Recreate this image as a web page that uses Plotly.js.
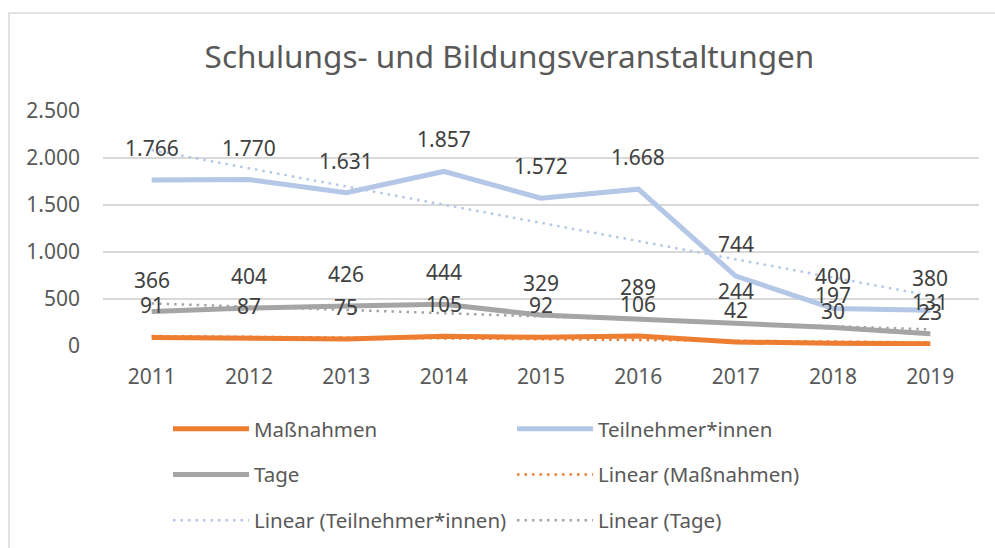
<!DOCTYPE html>
<html>
<head>
<meta charset="utf-8">
<script src="https://cdn.plot.ly/plotly-3.0.1.min.js"></script>
<style>html,body{margin:0;padding:0;background:#fff;}#chart{width:995px;height:548px;}</style>
</head>
<body>
<div id="chart"></div>
<script>
const years = ['2011','2012','2013','2014','2015','2016','2017','2018','2019'];
const massnahmen = [91, 87, 75, 105, 92, 106, 42, 30, 23];
const teilnehmer = [1766, 1770, 1631, 1857, 1572, 1668, 744, 400, 380];
const tage = [366, 404, 426, 444, 329, 289, 244, 197, 131];
const yTicks = [0, 500, 1000, 1500, 2000, 2500];

const cOrange = '#ED7D31', cBlue = '#B4C7E7', cGray = '#A5A5A5';
const FONT = 'Noto Sans, Open Sans, sans-serif';
const TXT = '#595959';
const DOTS = '2.5px,5px';

function linearTrend(vals){
  const n = vals.length;
  const xs = vals.map((v,i)=>i+1);
  const mx = xs.reduce((a,b)=>a+b,0)/n;
  const my = vals.reduce((a,b)=>a+b,0)/n;
  let sxy=0, sxx=0;
  for(let i=0;i<n;i++){ sxy += (xs[i]-mx)*(vals[i]-my); sxx += (xs[i]-mx)**2; }
  const b = sxy/sxx, a = my - b*mx;
  return xs.map(x=>a+b*x);
}
function fmt(v){ return String(v).replace(/\B(?=(\d{3})+(?!\d))/g,'.'); }

const traces = [
  {name:'Maßnahmen', x:years, y:massnahmen, mode:'lines', line:{color:cOrange,width:5}, legend:'legend', legendgroup:'a'},
  {name:'Teilnehmer*innen', x:years, y:teilnehmer, mode:'lines', line:{color:cBlue,width:5}, legend:'legend2', legendgroup:'b'},
  {name:'Tage', x:years, y:tage, mode:'lines', line:{color:cGray,width:5}, legend:'legend', legendgroup:'c'},
  {name:'Linear (Maßnahmen)', x:years, y:linearTrend(massnahmen), mode:'lines', line:{color:cOrange,width:2.5,dash:DOTS}, legend:'legend2', legendgroup:'d'},
  {name:'Linear (Teilnehmer*innen)', x:years, y:linearTrend(teilnehmer), mode:'lines', line:{color:cBlue,width:2.5,dash:DOTS}, legend:'legend', legendgroup:'e'},
  {name:'Linear (Tage)', x:years, y:linearTrend(tage), mode:'lines', line:{color:cGray,width:2.5,dash:DOTS}, legend:'legend2', legendgroup:'f'}
];

const annotations = [];
[massnahmen, tage, teilnehmer].forEach(arr=>{
  arr.forEach((v,i)=>{
    annotations.push({x:i, y:v, xref:'x', yref:'y', text:fmt(v), showarrow:false,
      yshift:32, yanchor:'middle', font:{family:FONT,size:21,color:'#404040'}});
  });
});

const PW = 876, PH = 235;
function px2x(p){ return (p-103)/PW; }
function py2y(p){ return (346-p)/PH; }

const legendCommon = {orientation:'v', xanchor:'left', yanchor:'top', itemwidth:76,
  font:{family:FONT,size:20.5,color:TXT}, bgcolor:'rgba(0,0,0,0)', tracegroupgap:16, traceorder:'grouped'};

const layout = {
  width:995, height:548,
  paper_bgcolor:'#fff', plot_bgcolor:'#fff',
  separators:',.',
  margin:{l:103, r:16, t:111, b:202, autoexpand:false},
  showlegend:true,
  title:{text:'Schulungs- und Bildungsveranstaltungen', x:0.512, y:1-57/548,
    xanchor:'center', yanchor:'middle', font:{family:FONT,size:31.5,color:TXT}},
  xaxis:{type:'category', showgrid:false, zeroline:false, showline:false, ticks:'', tickangle:0,
    ticklabelstandoff:16, tickfont:{family:FONT,size:21,color:TXT}, range:[-0.5,8.5]},
  yaxis:{range:[0,2500], tickvals:yTicks, tickformat:',d', showgrid:true, gridcolor:'#D9D9D9', gridwidth:1.3,
    zeroline:false, showline:false, ticks:'', ticklabelstandoff:22, tickfont:{family:FONT,size:21,color:TXT}},
  legend:Object.assign({}, legendCommon, {x:px2x(168), y:py2y(409)}),
  legend2:Object.assign({}, legendCommon, {x:px2x(512), y:py2y(409)}),
  annotations:annotations,
  shapes:[{type:'rect', xref:'paper', yref:'paper', x0:px2x(9), x1:px2x(1010), y0:py2y(560), y1:py2y(13),
    line:{color:'#D9D9D9',width:1.5}, fillcolor:'rgba(0,0,0,0)', layer:'below'}]
};

Plotly.newPlot('chart', traces, layout, {staticPlot:true, displayModeBar:false});
</script>
</body>
</html>
